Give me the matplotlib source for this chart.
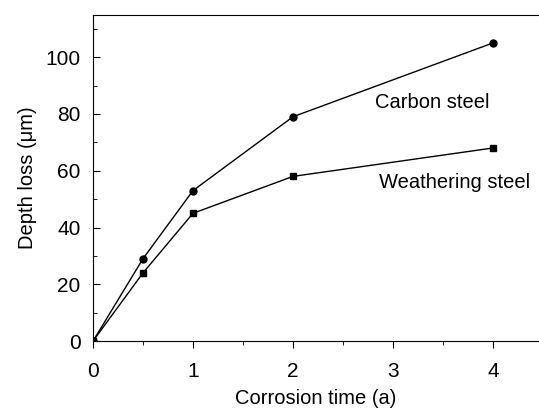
import matplotlib
matplotlib.use('Agg')
import matplotlib.pyplot as plt
from matplotlib.ticker import MultipleLocator

plt.rcParams['font.family'] = ['Liberation Sans', 'DejaVu Sans']

time = [0, 0.5, 1, 2, 4]
carbon = [0, 29, 53, 79, 105]
weathering = [0, 24, 45, 58, 68]

fig = plt.figure(figsize=(5.39, 4.08), dpi=100)
ax = fig.add_axes([0.1725, 0.164, 0.8275, 0.799])

ax.plot(time, carbon, color='black', lw=1, marker='o', ms=5)
ax.plot(time, weathering, color='black', lw=1, marker='s', ms=5)

ax.text(3.39, 84, 'Carbon steel', fontsize=14.5, ha='center', va='center')
ax.text(3.62, 56, 'Weathering steel', fontsize=14.5, ha='center', va='center')

ax.set_xlim(0, 4.46)
ax.set_ylim(0, 114.8)
ax.xaxis.set_major_locator(MultipleLocator(1))
ax.xaxis.set_minor_locator(MultipleLocator(0.5))
ax.yaxis.set_major_locator(MultipleLocator(20))
ax.yaxis.set_minor_locator(MultipleLocator(10))
ax.tick_params(axis='y', which='both', direction='in', labelsize=15, pad=9)
ax.tick_params(axis='x', which='both', direction='out', labelsize=15, pad=10)
ax.tick_params(which='major', length=5)
ax.tick_params(which='minor', length=3)
ax.spines['right'].set_visible(False)
ax.set_xlabel('Corrosion time (a)', fontsize=14.5, labelpad=6)
ax.set_ylabel('Depth loss (\u03bcm)', fontsize=14.5, labelpad=6)

fig.savefig('out.png', dpi=100)
